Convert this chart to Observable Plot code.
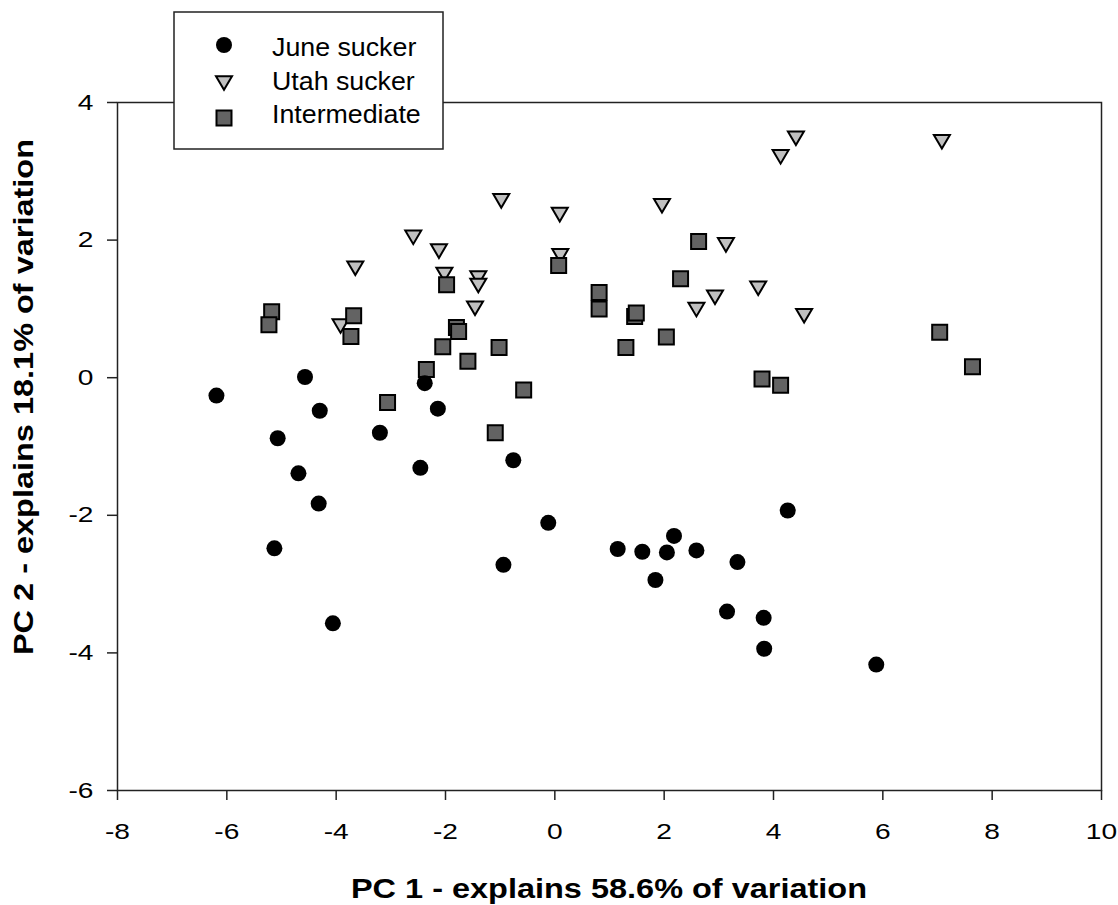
<!DOCTYPE html>
<html>
<head>
<meta charset="utf-8">
<script src="https://cdn.jsdelivr.net/npm/d3@7"></script>
<script src="https://cdn.jsdelivr.net/npm/@observablehq/plot@0.6"></script>
<style>
  html, body { margin: 0; padding: 0; background: #fff; }
  #chart { width: 1118px; height: 905px; }
  svg { font-family: "Liberation Sans", Arial, sans-serif; }
</style>
</head>
<body>
<div id="chart"></div>
<script>
// ---- Data ----
const seriesNames = ["June sucker", "Utah sucker", "Intermediate"];

const juneSucker = [
  [-6.19, -0.26], [-4.57, 0.01], [-2.38, -0.08], [-2.14, -0.45], [-4.30, -0.48],
  [-5.07, -0.88], [-3.20, -0.80], [-4.69, -1.39], [-2.46, -1.31], [-4.32, -1.83],
  [-5.13, -2.48], [-4.06, -3.57], [-0.76, -1.20], [-0.12, -2.11], [-0.94, -2.72],
  [1.15, -2.49], [1.60, -2.53], [2.05, -2.54], [2.18, -2.30], [2.59, -2.51],
  [1.84, -2.94], [3.34, -2.68], [4.26, -1.93], [3.15, -3.40], [3.82, -3.49],
  [3.83, -3.94], [5.88, -4.17]
];

const utahSucker = [
  [-2.59, 2.04], [-2.12, 1.84], [-3.65, 1.59], [-2.02, 1.50], [-1.40, 1.45],
  [-1.40, 1.34], [-1.46, 1.01], [-3.92, 0.75], [-0.98, 2.57], [0.09, 2.37],
  [1.96, 2.50], [4.41, 3.48], [4.13, 3.21], [7.08, 3.43], [3.13, 1.93],
  [0.10, 1.77], [3.72, 1.30], [2.93, 1.17], [2.59, 0.99], [4.56, 0.90]
];

const intermediate = [
  [-5.18, 0.96], [-5.23, 0.77], [-3.68, 0.90], [-3.73, 0.60], [-1.98, 1.35],
  [-1.80, 0.73], [-1.76, 0.67], [-2.05, 0.45], [-1.59, 0.24], [-2.35, 0.12],
  [-3.06, -0.36], [-1.02, 0.44], [-0.57, -0.18], [-1.09, -0.80], [0.07, 1.63],
  [2.63, 1.98], [2.30, 1.44], [0.81, 1.24], [0.81, 1.00], [1.46, 0.89],
  [1.49, 0.94], [1.30, 0.44], [2.04, 0.59], [3.79, -0.02], [4.13, -0.11],
  [7.04, 0.66], [7.64, 0.16]
];

const xTicks = [-8, -6, -4, -2, 0, 2, 4, 6, 8, 10];
const yTicks = [-6, -4, -2, 0, 2, 4];
const xTitle = "PC 1 - explains 58.6% of variation";
const yTitle = "PC 2 - explains 18.1% of variation";

// ---- Styles ----
const FONT = '"Liberation Sans", Arial, sans-serif';
const axisColor = "#222";
const utahFill = "#c0c0c0";
const interFill = "#636363";

const triangleDown = {
  draw(ctx, size) {
    const r = Math.sqrt(size / Math.PI);
    const h = r * 0.85;
    ctx.moveTo(-r, -h);
    ctx.lineTo(r, -h);
    ctx.lineTo(0, h);
    ctx.closePath();
  }
};
const squareSym = {
  draw(ctx, size) {
    const r = Math.sqrt(size / Math.PI);
    ctx.rect(-r, -r, 2 * r, 2 * r);
  }
};

const chart = Plot.plot({
  width: 1118,
  height: 905,
  marginLeft: 117,
  marginRight: 17,
  marginTop: 102,
  marginBottom: 115,
  style: { fontFamily: FONT, background: "#fff", color: "#000" },
  x: { domain: [-8, 10], axis: null },
  y: { domain: [-6, 4], axis: null },
  marks: [
    Plot.axisX({ ticks: xTicks, tickSize: 10, tickFormat: () => "", stroke: axisColor, strokeWidth: 1.5, label: null }),
    Plot.axisY({ ticks: yTicks, tickSize: 10, tickFormat: () => "", stroke: axisColor, strokeWidth: 1.5, label: null }),
    Plot.text(xTicks, { x: d => d, text: d => String(d), frameAnchor: "bottom", dy: 41, fontSize: 22, lineAnchor: "middle", fill: "#000" }),
    Plot.text(yTicks, { y: d => d, text: d => String(d), frameAnchor: "left", dx: -24, textAnchor: "end", fontSize: 22, lineAnchor: "middle", fill: "#000" }),
    Plot.frame({ stroke: axisColor, strokeWidth: 1.5 }),
    Plot.dot(utahSucker, { x: d => d[0], y: d => d[1], symbol: triangleDown, r: 8, fill: utahFill, stroke: "#000", strokeWidth: 2 }),
    Plot.dot(intermediate, { x: d => d[0], y: d => d[1], symbol: squareSym, r: 7.5, fill: interFill, stroke: "#000", strokeWidth: 2 }),
    Plot.dot(juneSucker, { x: d => d[0], y: d => d[1], r: 8, fill: "#000", stroke: "none" })
  ]
});

document.getElementById("chart").appendChild(chart);

const svg = d3.select(chart);

// Tick labels in the reference are horizontally wide: stretch them a little
svg.selectAll('g[aria-label="text"] text').each(function () {
  const t = d3.select(this);
  const tr = t.attr("transform") || "";
  t.attr("transform", tr + " scale(1.28,1)");
});

// ---- Axis titles ----
svg.append("text")
  .attr("transform", "translate(609,898) scale(1.16,1)")
  .attr("text-anchor", "middle")
  .attr("font-family", FONT).attr("font-weight", "bold").attr("font-size", 28)
  .attr("fill", "#000")
  .text(xTitle);

svg.append("text")
  .attr("transform", "translate(33,397) rotate(-90) scale(1.16,1)")
  .attr("text-anchor", "middle")
  .attr("font-family", FONT).attr("font-weight", "bold").attr("font-size", 28)
  .attr("fill", "#000")
  .text(yTitle);

// ---- Legend ----
const lg = svg.append("g");
lg.append("rect")
  .attr("x", 174).attr("y", 12).attr("width", 269).attr("height", 137)
  .attr("fill", "#fff").attr("stroke", axisColor).attr("stroke-width", 1.5);

const legendItems = [
  { name: seriesNames[0], sym: d3.symbolCircle, size: Math.PI * 8 * 8, fill: "#000", stroke: "none", sw: 0, my: 45, ty: 56 },
  { name: seriesNames[1], sym: triangleDown, size: Math.PI * 8 * 8, fill: utahFill, stroke: "#000", sw: 2, my: 83, ty: 90 },
  { name: seriesNames[2], sym: squareSym, size: Math.PI * 7.5 * 7.5, fill: interFill, stroke: "#000", sw: 2, my: 118, ty: 122.5 }
];
legendItems.forEach(it => {
  lg.append("path")
    .attr("transform", `translate(224,${it.my})`)
    .attr("d", d3.symbol(it.sym, it.size)())
    .attr("fill", it.fill).attr("stroke", it.stroke).attr("stroke-width", it.sw);
  lg.append("text")
    .attr("transform", `translate(272,${it.ty}) scale(1.03,1)`)
    .attr("text-anchor", "start")
    .attr("font-family", FONT).attr("font-size", 26)
    .attr("fill", "#000")
    .text(it.name);
});
</script>
</body>
</html>
